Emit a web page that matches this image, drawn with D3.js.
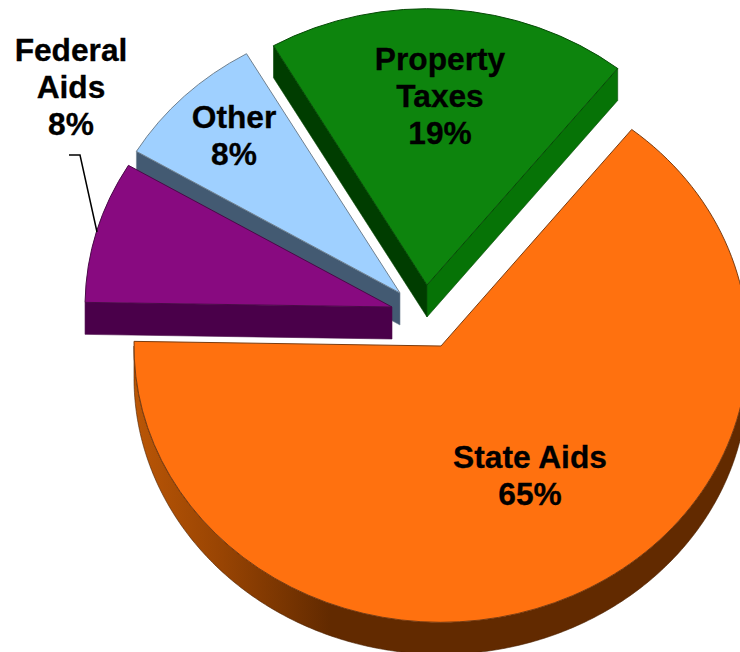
<!DOCTYPE html>
<html>
<head>
<meta charset="utf-8">
<script src="https://d3js.org/d3.v7.min.js"></script>
<style>
  body { margin: 0; background: #fff; }
  svg { display: block; }
  text { font-family: "Liberation Sans", Arial, sans-serif; font-weight: bold; font-size: 31.7px; fill: #000; stroke: #000; stroke-width: 0.3px; text-anchor: middle; }
</style>
</head>
<body>
<div id="my_dataviz"></div>
<script>
// the data, in pie order going clockwise from the top
// (the labels show them rounded)
var categories = ["Property Taxes", "State Aids", "Federal Aids", "Other"];
var shares = [19, 64.6, 8.3, 8.1];
var labelLines = [["Property", "Taxes", "19%"], ["State Aids", "65%"], ["Federal", "Aids", "8%"], ["Other", "8%"]];

// look of each slice
var topColors = ["#0d840d", "#ff710f", "#880a80", "#9fd0ff"];
var edgeColors = ["#064a06", "#7a3c10", "#4a0a48", "#6f8191"];
var startWallColors = ["#003d00", "#5f2a00", "#4a004a", "#435a72"];
var endWallColors = ["#067306", "#5f2a00", "#4a004a", "#435a72"];

// where each exploded slice has its point, and where its label sits
var centers = [[427, 285], [441, 346], [392, 307], [400, 293]];
var labelPos = [[440, 70], [530, 468], [71, 61], [234, 128]];

var width = 740, height = 652;
var radius = 307, squash = 0.9, depth = 32, lineGap = 37;

var svg = d3.select("#my_dataviz").append("svg")
  .attr("width", width)
  .attr("height", height);

// rim of the orange slice gets lighter towards the left (x is relative to the slice point)
var grad = svg.append("defs").append("linearGradient")
  .attr("id", "rimShade")
  .attr("gradientUnits", "userSpaceOnUse")
  .attr("x1", -radius).attr("x2", -111).attr("y1", 0).attr("y2", 0);
grad.append("stop").attr("offset", "0%").attr("stop-color", "#ba5606");
grad.append("stop").attr("offset", "45%").attr("stop-color", "#984403");
grad.append("stop").attr("offset", "100%").attr("stop-color", "#622a00");

var pie = d3.pie().sort(null).startAngle(-30 * Math.PI / 180).endAngle(330 * Math.PI / 180);
var slices = pie(shares);
var arc = d3.arc().innerRadius(0).outerRadius(radius);

function px(a) { return radius * Math.sin(a); }
function py(a) { return -radius * Math.cos(a) * squash; }

// flat wall along a cut edge of a slice
function cutWall(a) {
  return d3.line()([[0, 0], [px(a), py(a)], [px(a), py(a) + depth], [0, depth]]) + "Z";
}

// curved wall, only the part of the rim that faces the viewer
var rimWall = d3.area()
  .x(function(a) { return px(a); })
  .y0(function(a) { return py(a); })
  .y1(function(a) { return py(a) + depth; });

// back to front, the purple one sits over the blue wall
var drawOrder = [1, 0, 3, 2];

drawOrder.forEach(function(i) {
  var d = slices[i];
  var g = svg.append("g")
    .attr("transform", "translate(" + centers[i][0] + "," + centers[i][1] + ")");

  // a cut edge only shows when it faces downwards
  if (Math.sin(d.startAngle) < 0) {
    g.append("path")
      .attr("d", cutWall(d.startAngle))
      .attr("fill", startWallColors[i])
      .attr("stroke", edgeColors[i]).attr("stroke-width", 0.6);
  }
  if (Math.sin(d.endAngle) > 0) {
    g.append("path")
      .attr("d", cutWall(d.endAngle))
      .attr("fill", endWallColors[i])
      .attr("stroke", edgeColors[i]).attr("stroke-width", 0.6);
  }

  var from = Math.max(d.startAngle, Math.PI / 2), to = Math.min(d.endAngle, 3 * Math.PI / 2);
  if (to > from) {
    g.append("path")
      .attr("d", rimWall(d3.range(from, to, 0.01).concat([to])))
      .attr("fill", "url(#rimShade)")
      .attr("stroke", "#4a2000").attr("stroke-width", 0.6);
  }

  g.append("path")
    .attr("class", "slice")
    .attr("d", arc(d))
    .attr("transform", "scale(1," + squash + ")")
    .attr("fill", topColors[i])
    .attr("stroke", edgeColors[i])
    .attr("stroke-width", 1)
    .attr("vector-effect", "non-scaling-stroke");
});

// leader line for the federal aids label
var leader = [[69, 155], [80, 155], [97, 232]];
svg.append("path")
  .attr("d", d3.line()(leader))
  .attr("fill", "none")
  .attr("stroke", "#000")
  .attr("stroke-width", 1.5);

// labels
categories.forEach(function(name, i) {
  var t = svg.append("text").attr("class", "label");
  labelLines[i].forEach(function(line, k) {
    t.append("tspan")
      .attr("x", labelPos[i][0])
      .attr("y", labelPos[i][1] + k * lineGap)
      .text(line);
  });
});
</script>
</body>
</html>
